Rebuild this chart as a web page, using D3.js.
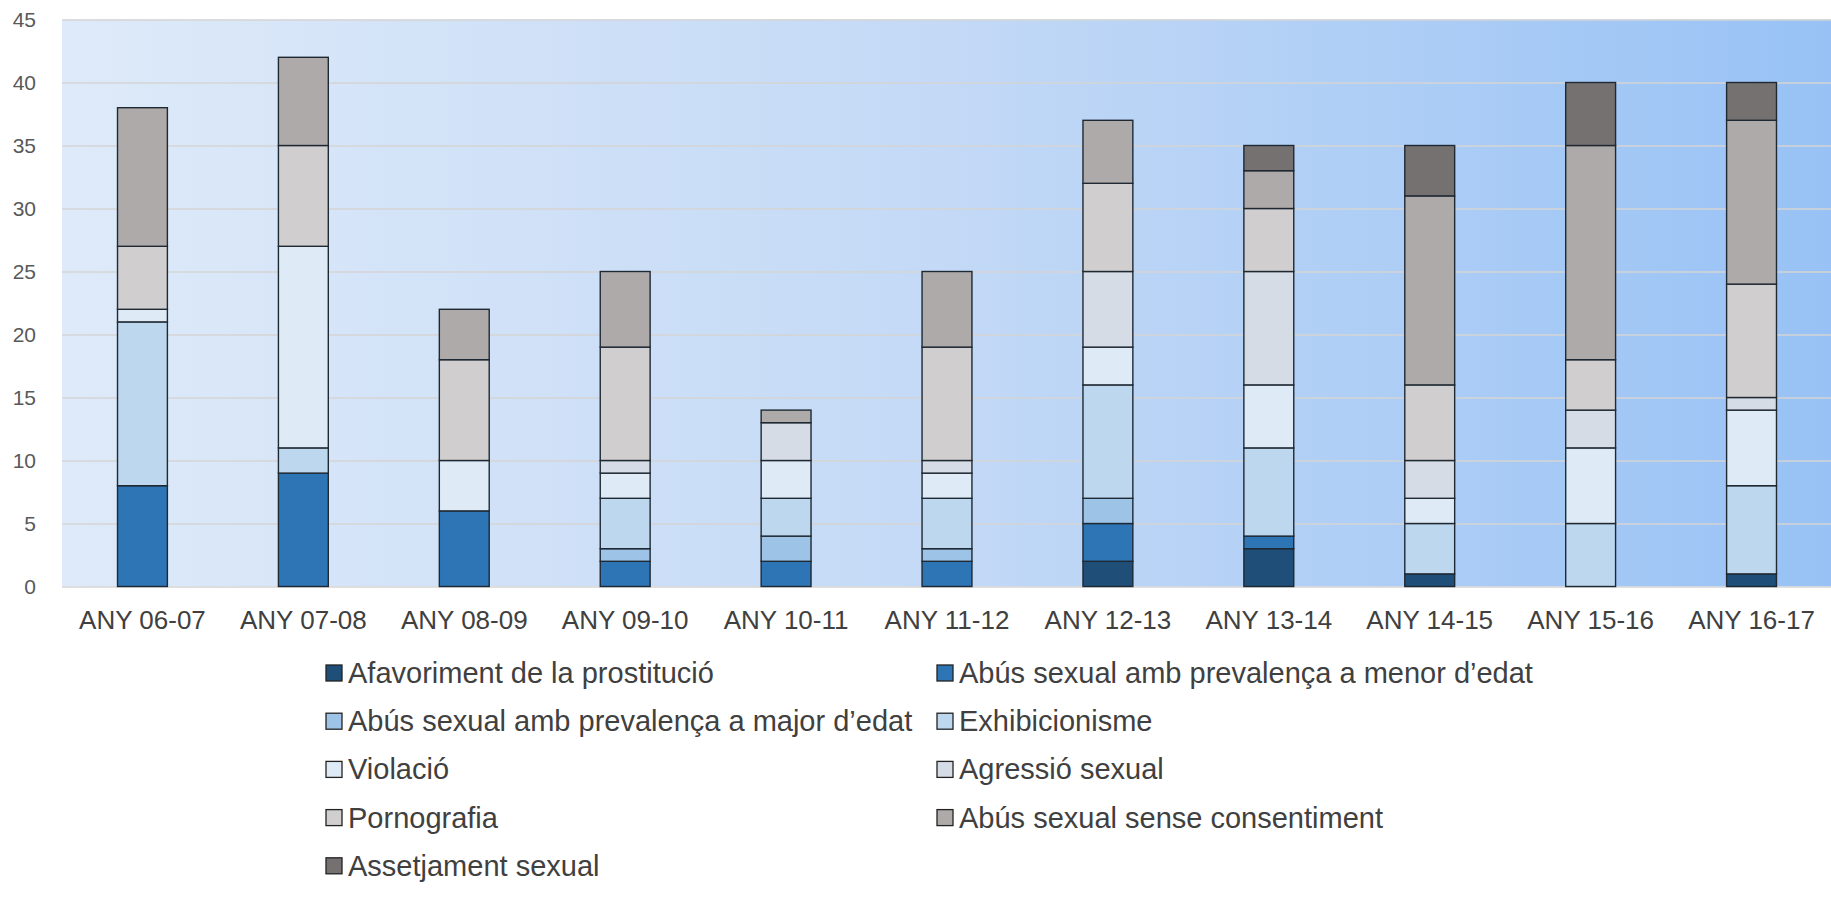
<!DOCTYPE html>
<html>
<head>
<meta charset="utf-8">
<script src="https://cdn.jsdelivr.net/npm/d3@7"></script>
<style>
  body { margin: 0; background: #fff; }
  svg { display: block; font-family: 'Liberation Sans', Arial, sans-serif; }
</style>
</head>
<body>
<div class="js-chart"></div>
<script>
const years = ['ANY 06-07', 'ANY 07-08', 'ANY 08-09', 'ANY 09-10', 'ANY 10-11', 'ANY 11-12',
  'ANY 12-13', 'ANY 13-14', 'ANY 14-15', 'ANY 15-16', 'ANY 16-17'];

const seriesNames = [
  'Afavoriment de la prostitució',
  'Abús sexual amb prevalença a menor d’edat',
  'Abús sexual amb prevalença a major d’edat',
  'Exhibicionisme',
  'Violació',
  'Agressió sexual',
  'Pornografia',
  'Abús sexual sense consentiment',
  'Assetjament sexual',
];

const afavoriment = [0, 0, 0, 0, 0, 0, 2, 3, 1, 0, 1];
const abusMenor = [8, 9, 6, 2, 2, 2, 3, 1, 0, 0, 0];
const abusMajor = [0, 0, 0, 1, 2, 1, 2, 0, 0, 0, 0];
const exhibicionisme = [13, 2, 0, 4, 3, 4, 9, 7, 4, 5, 7];
const violacio = [1, 16, 4, 2, 3, 2, 3, 5, 2, 6, 6];
const agressio = [0, 0, 0, 1, 3, 1, 6, 9, 3, 3, 1];
const pornografia = [5, 8, 8, 9, 0, 9, 7, 5, 6, 4, 9];
const abusSense = [11, 7, 4, 6, 1, 6, 5, 3, 15, 17, 13];
const assetjament = [0, 0, 0, 0, 0, 0, 0, 2, 4, 5, 3];

const seriesValues = [afavoriment, abusMenor, abusMajor, exhibicionisme, violacio,
  agressio, pornografia, abusSense, assetjament];

const yTicks = [0, 5, 10, 15, 20, 25, 30, 35, 40, 45];

const colors = ['#1F4E79', '#2E75B6', '#9DC3E6', '#BDD7EE', '#DEEBF7',
  '#D6DCE5', '#D0CECE', '#AEAAAA', '#767171'];

const width = 1831;
const height = 902;
const plot = { left: 62, right: 1832, top: 19.5, bottom: 586.5 };

const svg = d3.select('.js-chart')
  .append('svg')
  .attr('width', width)
  .attr('height', height);

// background gradient of the plot area
const defs = svg.append('defs');
const grad = defs.append('linearGradient')
  .attr('id', 'plotBg')
  .attr('x1', '0%').attr('x2', '100%')
  .attr('y1', '0%').attr('y2', '0%');
grad.append('stop').attr('offset', '0%').attr('stop-color', '#DEEAF9');
grad.append('stop').attr('offset', '50%').attr('stop-color', '#C3D9F6');
grad.append('stop').attr('offset', '100%').attr('stop-color', '#98C2F5');

svg.append('rect')
  .attr('x', plot.left)
  .attr('y', plot.top)
  .attr('width', plot.right - plot.left)
  .attr('height', plot.bottom - plot.top)
  .attr('fill', 'url(#plotBg)');

const x = d3.scaleBand()
  .domain(years)
  .range([plot.left, plot.right])
  .paddingInner(0.69)
  .paddingOuter(0.345);

const y = d3.scaleLinear()
  .domain([0, 45])
  .range([plot.bottom, plot.top]);

// gridlines + y labels
const yAxis = d3.axisLeft(y)
  .tickValues(yTicks)
  .tickSize(-(plot.right - plot.left))
  .tickPadding(26);

svg.append('g')
  .attr('transform', `translate(${plot.left},0)`)
  .call(yAxis)
  .call((g) => g.select('.domain').remove())
  .call((g) => g.selectAll('.tick line').attr('stroke', '#D5D5D5').attr('stroke-width', 1.5))
  .call((g) => g.selectAll('.tick text')
    .attr('fill', '#595959')
    .attr('font-size', 21)
    .attr('font-family', "'Liberation Sans', Arial, sans-serif"));

// stacked bars
const table = years.map((year, i) => {
  const row = { year };
  seriesNames.forEach((name, s) => { row[name] = seriesValues[s][i]; });
  return row;
});

const stacked = d3.stack().keys(seriesNames)(table);

svg.append('g')
  .selectAll('g')
  .data(stacked)
  .join('g')
  .attr('fill', (d, i) => colors[i])
  .selectAll('rect')
  .data((d) => d.filter((p) => p[1] - p[0] > 0))
  .join('rect')
  .attr('x', (d) => x(d.data.year))
  .attr('y', (d) => y(d[1]))
  .attr('width', x.bandwidth())
  .attr('height', (d) => y(d[0]) - y(d[1]))
  .attr('stroke', '#1E2933')
  .attr('stroke-width', 1.4);

// x labels
const xAxis = d3.axisBottom(x).tickSize(0).tickPadding(24);
svg.append('g')
  .attr('transform', `translate(0,${plot.bottom})`)
  .call(xAxis)
  .call((g) => g.select('.domain').remove())
  .call((g) => g.selectAll('.tick text')
    .attr('fill', '#404040')
    .attr('font-size', 26)
    .attr('font-family', "'Liberation Sans', Arial, sans-serif"));

// legend
const legend = svg.append('g').attr('transform', 'translate(326,665)');
const item = legend.selectAll('g')
  .data(seriesNames)
  .join('g')
  .attr('transform', (d, i) => `translate(${(i % 2) * 611},${Math.floor(i / 2) * 48.2})`);

item.append('rect')
  .attr('width', 16)
  .attr('height', 16)
  .attr('fill', (d, i) => colors[i])
  .attr('stroke', '#222')
  .attr('stroke-width', 1.3);

item.append('text')
  .attr('x', 22)
  .attr('y', 18)
  .attr('fill', '#404040')
  .attr('font-size', 29)
  .text((d) => d);
</script>
</body>
</html>
